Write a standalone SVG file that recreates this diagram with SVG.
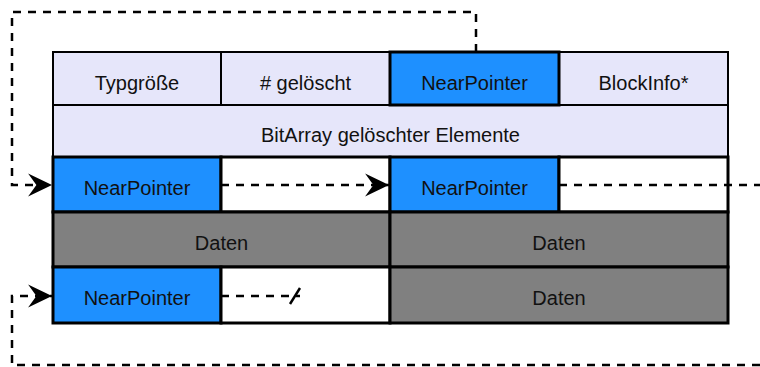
<svg xmlns="http://www.w3.org/2000/svg" width="760" height="367" viewBox="0 0 760 367">
<style>
.lav{fill:#E6E6FA;stroke:#000;stroke-width:2}
.blue{fill:#1E90FF;stroke:#000;stroke-width:3}
.white{fill:#FFFFFF;stroke:#000;stroke-width:3}
.gray{fill:#808080;stroke:#000;stroke-width:3}
text{font-family:"Liberation Sans",Arial,sans-serif;font-size:20px;fill:#111;text-anchor:middle}
.dash{fill:none;stroke:#000;stroke-width:2.5;stroke-dasharray:8,7}
</style>
<defs>
<marker id="arr" markerUnits="userSpaceOnUse" markerWidth="26" markerHeight="26" viewBox="-24 -12 25 24" refX="0" refY="0" orient="auto">
<path d="M0,0 L-23,-11 L-15,0 L-23,11 Z" fill="#000"/>
</marker>
</defs>
<g id="typgroesse"><rect class="lav" x="53" y="52" width="168" height="53"/><text x="137" y="90">Typgröße</text></g>
<g id="geloescht"><rect class="lav" x="221" y="52" width="169" height="53"/><text x="305.5" y="90"># gelöscht</text></g>
<g id="blockinfo"><rect class="lav" x="559" y="52" width="169" height="53"/><text x="643.5" y="90">BlockInfo*</text></g>
<g id="bitarray"><rect class="lav" x="53" y="105" width="675" height="52"/><text x="390.5" y="142">BitArray gelöschter Elemente</text></g>
<g id="nearpointer-header"><rect class="blue" x="390" y="52" width="169" height="53"/><text x="474.5" y="90">NearPointer</text></g>
<g id="np1"><rect class="blue" x="53" y="157" width="168" height="55"/><text x="137" y="195">NearPointer</text></g>
<g id="empty1"><rect class="white" x="221" y="157" width="169" height="55"/></g>
<g id="np2"><rect class="blue" x="390" y="157" width="169" height="55"/><text x="474.5" y="195">NearPointer</text></g>
<g id="empty2"><rect class="white" x="559" y="157" width="169" height="55"/></g>
<g id="daten1"><rect class="gray" x="53" y="212" width="337" height="55"/><text x="221.5" y="250">Daten</text></g>
<g id="daten2"><rect class="gray" x="390" y="212" width="338" height="55"/><text x="559" y="250">Daten</text></g>
<g id="np3"><rect class="blue" x="53" y="267" width="168" height="56"/><text x="137" y="305">NearPointer</text></g>
<g id="empty3"><rect class="white" x="221" y="267" width="169" height="56"/></g>
<g id="daten3"><rect class="gray" x="390" y="267" width="338" height="56"/><text x="559" y="305">Daten</text></g>
<g id="connectors">
<path class="dash" d="M476,52 V12 H12 V185 H52" marker-end="url(#arr)"/>
<path class="dash" d="M221,185 H389" marker-end="url(#arr)"/>
<path class="dash" d="M559,185 H760"/>
<path class="dash" d="M221,296 H300"/>
<path d="M300,288 L290,304" stroke="#000" stroke-width="2.5" fill="none"/>
<path class="dash" d="M760,365 H12 V296 H52" marker-end="url(#arr)"/>
</g>
</svg>
